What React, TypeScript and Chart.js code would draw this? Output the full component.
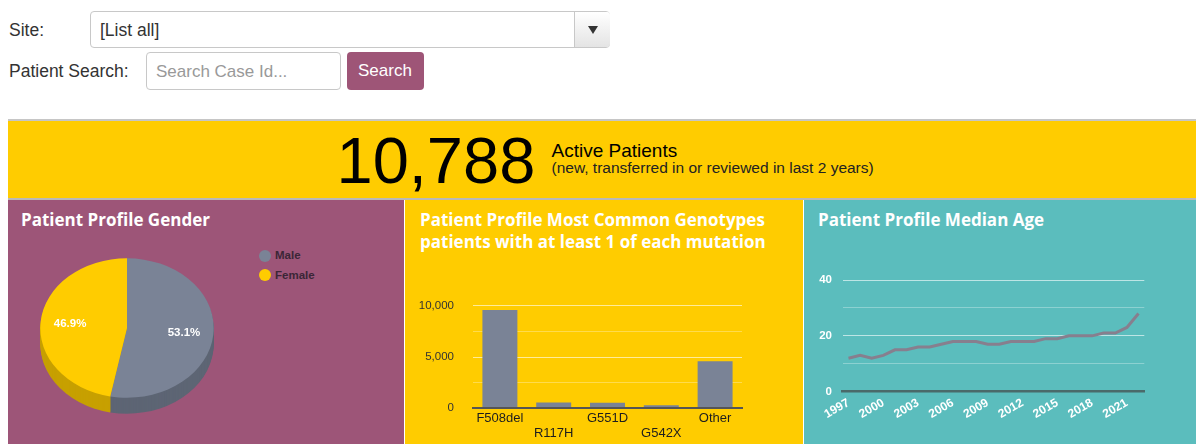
import React, { useEffect, useRef } from "react";
import { Chart, registerables } from "chart.js";

Chart.register(...registerables);
Chart.defaults.font.family = "'Liberation Sans', Arial, sans-serif";

// ---------- data ----------
const genderLabels = ["Male", "Female"];
const genderValues = [53.1, 46.9];
const genderColors = ["#7a8396", "#ffcc00"];
const genderSideColors = ["#5d6574", "#c7a000"];

const genotypeLabels = ["F508del", "R117H", "G551D", "G542X", "Other"];
const genotypeValues = [9600, 560, 540, 310, 4600];
const genotypeGridTicks = [0, 2500, 5000, 7500, 10000];
const genotypeTickLabels = ["0", "", "5,000", "", "10,000"];

const ageYears = [
  "1997", "1998", "1999", "2000", "2001", "2002", "2003", "2004", "2005",
  "2006", "2007", "2008", "2009", "2010", "2011", "2012", "2013", "2014",
  "2015", "2016", "2017", "2018", "2019", "2020", "2021", "2022",
];
const medianAge = [
  12, 13, 12, 13, 15, 15, 16, 16, 17, 18, 18, 18, 17, 17, 18, 18, 18, 19, 19,
  20, 20, 20, 21, 21, 23, 28,
];
const ageShownYears = ["1997", "2000", "2003", "2006", "2009", "2012", "2015", "2018", "2021"];
const ageGridTicks = [0, 10, 20, 30, 40];
const ageTickLabels = ["0", "", "20", "", "40"];

const TILT = 0.804;
const DEPTH = 16;

const pie3d = {
  id: "pie3d",
  beforeDatasetsDraw(chart: any) {
    const arcs = chart.getDatasetMeta(0).data;
    const ctx = chart.ctx;
    ctx.save();
    if (!arcs.length) return;
    const cx = arcs[0].x;
    const cy = arcs[0].y;
    ctx.translate(cx, cy);
    ctx.scale(1, TILT);
    ctx.translate(-cx, -cy);
    for (let d = DEPTH; d >= 1; d--) {
      arcs.forEach((a: any, i: number) => {
        ctx.beginPath();
        ctx.moveTo(cx, cy + d / TILT);
        ctx.arc(cx, cy + d / TILT, a.outerRadius, a.startAngle, a.endAngle);
        ctx.closePath();
        ctx.fillStyle = genderSideColors[i];
        ctx.fill();
      });
    }
  },
  afterDatasetsDraw(chart: any) {
    const ctx = chart.ctx;
    ctx.restore();
    const arcs = chart.getDatasetMeta(0).data;
    ctx.save();
    ctx.fillStyle = "#ffffff";
    ctx.font = "bold 11.5px 'Liberation Sans', Arial, sans-serif";
    ctx.textAlign = "center";
    ctx.textBaseline = "middle";
    arcs.forEach((a: any, i: number) => {
      const mid = (a.startAngle + a.endAngle) / 2;
      const r = a.outerRadius * 0.66;
      const x = a.x + Math.cos(mid) * r;
      const y = a.y + Math.sin(mid) * r * TILT;
      ctx.fillText(genderValues[i].toFixed(1) + "%", x, y);
    });
    ctx.restore();
  },
};

function GenderPie() {
  const ref = useRef<HTMLCanvasElement>(null);
  useEffect(() => {
    const chart = new Chart(ref.current!, {
      type: "pie",
      data: {
        labels: genderLabels,
        datasets: [
          {
            data: genderValues,
            backgroundColor: genderColors,
            borderWidth: 0,
            clip: false as any,
          },
        ],
      },
      options: {
        animation: false,
        responsive: false,
        radius: 86.7,
        layout: { padding: 14 },
        plugins: { legend: { display: false }, tooltip: { enabled: false } },
      } as any,
      plugins: [pie3d],
    });
    return () => chart.destroy();
  }, []);
  return (
    <canvas
      ref={ref}
      width={200}
      height={200}
      style={{ position: "absolute", left: 27, top: 228, width: 200, height: 200 }}
    />
  );
}

function GenotypeBar() {
  const ref = useRef<HTMLCanvasElement>(null);
  useEffect(() => {
    const chart = new Chart(ref.current!, {
      type: "bar",
      data: {
        labels: genotypeLabels,
        datasets: [
          {
            data: genotypeValues,
            backgroundColor: "#7a8396",
            borderWidth: 0,
            barPercentage: 0.65,
            categoryPercentage: 1,
          },
        ],
      },
      options: {
        animation: false,
        responsive: false,
        layout: { autoPadding: false, padding: { top: 21.7, right: 61, left: 0, bottom: 0 } },
        plugins: { legend: { display: false }, tooltip: { enabled: false } },
        scales: {
          x: {
            grid: { display: false, drawTicks: false },
            border: { display: true, color: "#555555", width: 2, z: 1 },
            afterFit: (s: any) => { s.height = 35.7; },
            ticks: {
              padding: 3,
              color: "#1e1e1e",
              font: { size: 13, lineHeight: 1.15 },
              maxRotation: 0,
              autoSkip: false,
              callback: (_v: any, i: number) =>
                i % 2 === 1 ? ["", genotypeLabels[i]] : genotypeLabels[i],
            },
          },
          y: {
            min: 0,
            max: 10000,
            afterBuildTicks: (s: any) => {
              s.ticks = genotypeGridTicks.map((v) => ({ value: v }));
            },
            afterFit: (s: any) => { s.width = 68; },
            border: { display: false },
            grid: {
              drawTicks: false,
              color: (c: any) =>
                c.tick && c.tick.value % 5000 === 0
                  ? "rgba(255,255,255,0.6)"
                  : "rgba(255,255,255,0.3)",
            },
            ticks: {
              padding: 19,
              color: "#333333",
              font: { size: 11.5 },
              callback: (_v: any, i: number) => genotypeTickLabels[i],
            },
          },
        },
      } as any,
    });
    return () => chart.destroy();
  }, []);
  return (
    <canvas
      ref={ref}
      width={398}
      height={164}
      style={{ position: "absolute", left: 405, top: 280, width: 398, height: 164 }}
    />
  );
}

function AgeLine() {
  const ref = useRef<HTMLCanvasElement>(null);
  useEffect(() => {
    const chart = new Chart(ref.current!, {
      type: "line",
      data: {
        labels: ageYears,
        datasets: [
          {
            data: medianAge,
            borderColor: "#877f8e",
            borderWidth: 3,
            pointRadius: 0,
            tension: 0,
            fill: false,
          },
        ],
      },
      options: {
        animation: false,
        responsive: false,
        layout: { autoPadding: false, padding: { top: 20, right: 51.7, left: 0, bottom: 0 } },
        plugins: { legend: { display: false }, tooltip: { enabled: false } },
        scales: {
          x: {
            offset: true,
            grid: { display: false, drawTicks: false },
            border: { display: true, color: "#4a6a6a", width: 2.5, z: 1 },
            afterFit: (s: any) => { s.height = 52.3; },
            ticks: {
              padding: 4,
              color: "#ffffff",
              font: { size: 12, weight: "bold" },
              autoSkip: false,
              minRotation: 30,
              maxRotation: 30,
              callback: (_v: any, i: number) =>
                ageShownYears.includes(ageYears[i]) ? ageYears[i] : "",
            },
          },
          y: {
            min: 0,
            max: 40,
            afterBuildTicks: (s: any) => {
              s.ticks = ageGridTicks.map((v) => ({ value: v }));
            },
            afterFit: (s: any) => { s.width = 38.7; },
            border: { display: false },
            grid: {
              drawTicks: false,
              color: (c: any) =>
                c.tick && c.tick.value % 20 === 0
                  ? "rgba(255,255,255,0.6)"
                  : "rgba(255,255,255,0.3)",
            },
            ticks: {
              padding: 10.7,
              color: "#ffffff",
              font: { size: 11.5, weight: "bold" },
              callback: (_v: any, i: number) => ageTickLabels[i],
            },
          },
        },
      } as any,
    });
    return () => chart.destroy();
  }, []);
  return (
    <canvas
      ref={ref}
      width={392}
      height={184}
      style={{ position: "absolute", left: 804, top: 260, width: 392, height: 184 }}
    />
  );
}

const abs = (s: React.CSSProperties): React.CSSProperties => ({
  position: "absolute",
  lineHeight: 1,
  whiteSpace: "nowrap",
  ...s,
});

const titleStyle: React.CSSProperties = {
  position: "absolute",
  fontFamily: "'Open Sans', sans-serif",
  fontWeight: 700,
  fontSize: 17,
  lineHeight: "21.6px",
  color: "#ffffff",
  whiteSpace: "nowrap",
};

export default function App() {
  return (
    <div
      style={{
        position: "absolute",
        left: 0,
        top: 0,
        width: 1196,
        height: 444,
        overflow: "hidden",
        fontFamily: "'Liberation Sans', Arial, sans-serif",
        color: "#333",
        background: "#ffffff",
      }}
    >
      {/* top form */}
      <div style={abs({ left: 9, top: 22, fontSize: 17.5 })}>Site:</div>
      <div
        style={{
          position: "absolute",
          left: 90,
          top: 11,
          width: 520,
          height: 37,
          boxSizing: "border-box",
          border: "1px solid #c8c8c8",
          borderRadius: 4,
          background: "#fff",
        }}
      >
        <div style={abs({ left: 9, top: 10, fontSize: 17.5, color: "#333" })}>[List all]</div>
        <div
          style={{
            position: "absolute",
            left: 483,
            top: 0,
            width: 35,
            height: 35,
            borderLeft: "1px solid #c8c8c8",
            background: "linear-gradient(#ffffff, #e4e4e4)",
            borderRadius: "0 3px 3px 0",
          }}
        >
          <div
            style={{
              position: "absolute",
              left: 13,
              top: 14,
              width: 0,
              height: 0,
              borderLeft: "5px solid transparent",
              borderRight: "5px solid transparent",
              borderTop: "8px solid #333",
            }}
          />
        </div>
      </div>
      <div style={abs({ left: 9, top: 62.5, fontSize: 17.5 })}>Patient Search:</div>
      <div
        style={{
          position: "absolute",
          left: 146,
          top: 52,
          width: 195,
          height: 38,
          boxSizing: "border-box",
          border: "1px solid #c8c8c8",
          borderRadius: 4,
          background: "#fff",
        }}
      />
      <div style={abs({ left: 156, top: 62.5, fontSize: 17, color: "#999" })}>Search Case Id...</div>
      <div
        style={{
          position: "absolute",
          left: 347,
          top: 52,
          width: 77,
          height: 38,
          borderRadius: 4,
          background: "#9e5577",
        }}
      />
      <div style={abs({ left: 358, top: 62.3, fontSize: 17, color: "#ffffff" })}>Search</div>

      {/* active patients band */}
      <div
        style={{
          position: "absolute",
          left: 8,
          top: 119,
          width: 1188,
          height: 81,
          boxSizing: "border-box",
          borderTop: "2px solid #c6c6c6",
          borderBottom: "2px solid #b9b9b9",
          background: "#ffcc00",
        }}
      />
      <div style={abs({ left: 336.5, top: 127.7, fontSize: 65, color: "#000" })}>10,788</div>
      <div style={abs({ left: 551.5, top: 141.2, fontSize: 19, color: "#000" })}>Active Patients</div>
      <div style={abs({ left: 551.5, top: 160.2, fontSize: 15.5, color: "#222" })}>
        (new, transferred in or reviewed in last 2 years)
      </div>

      {/* panels */}
      <div style={{ position: "absolute", left: 8, top: 200, width: 396, height: 244, background: "#9d5578" }} />
      <div style={{ position: "absolute", left: 405, top: 200, width: 398, height: 244, background: "#ffcc00" }} />
      <div style={{ position: "absolute", left: 804, top: 200, width: 392, height: 244, background: "#5bbdbd" }} />

      <div style={{ ...titleStyle, left: 21, top: 209.3 }}>Patient Profile Gender</div>
      <div style={{ ...titleStyle, left: 420, top: 209.3 }}>
        Patient Profile Most Common Genotypes
        <br />
        patients with at least 1 of each mutation
      </div>
      <div style={{ ...titleStyle, left: 818, top: 209.3 }}>Patient Profile Median Age</div>

      {/* legend */}
      {genderLabels.map((l, i) => (
        <React.Fragment key={l}>
          <div
            style={{
              position: "absolute",
              left: 259,
              top: 249.7 + i * 19.3,
              width: 12,
              height: 12,
              borderRadius: 6,
              background: genderColors[i],
            }}
          />
          <div
            style={abs({
              left: 275,
              top: 250.3 + i * 19.3,
              fontSize: 11.5,
              fontWeight: 700,
              color: "#3b2637",
            })}
          >
            {l}
          </div>
        </React.Fragment>
      ))}

      <GenderPie />
      <GenotypeBar />
      <AgeLine />
    </div>
  );
}
